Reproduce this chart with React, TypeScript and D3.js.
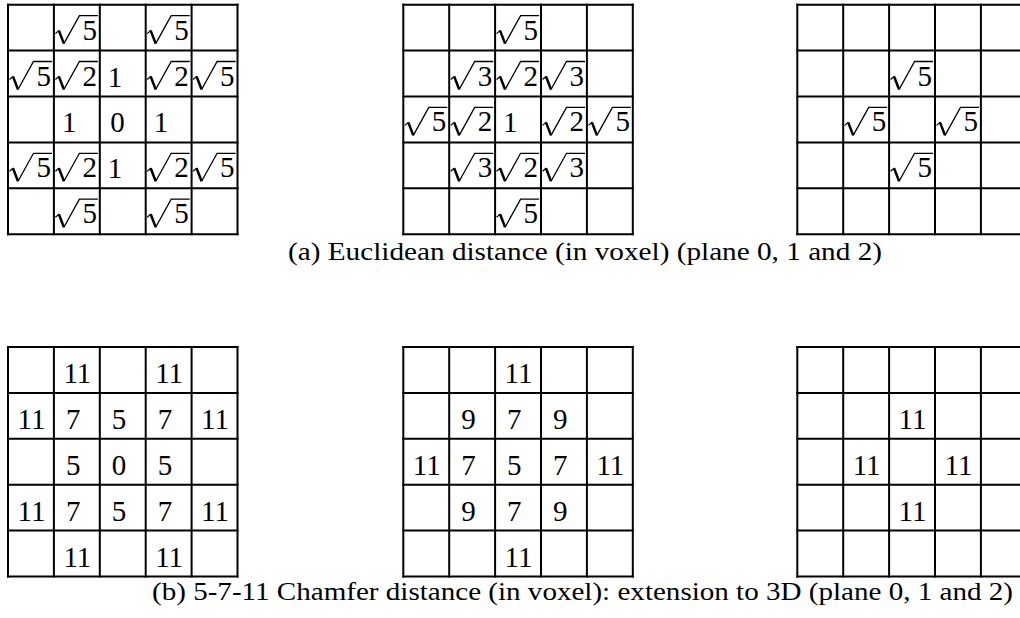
import React from "react";
import * as d3 from "d3";

// ---- data ----
const euclidPlane0: string[][] = [
  ["", "√5", "", "√5", ""],
  ["√5", "√2", "1", "√2", "√5"],
  ["", "1", "0", "1", ""],
  ["√5", "√2", "1", "√2", "√5"],
  ["", "√5", "", "√5", ""],
];
const euclidPlane1: string[][] = [
  ["", "", "√5", "", ""],
  ["", "√3", "√2", "√3", ""],
  ["√5", "√2", "1", "√2", "√5"],
  ["", "√3", "√2", "√3", ""],
  ["", "", "√5", "", ""],
];
const euclidPlane2: string[][] = [
  ["", "", "", "", ""],
  ["", "", "√5", "", ""],
  ["", "√5", "", "√5", ""],
  ["", "", "√5", "", ""],
  ["", "", "", "", ""],
];
const chamferPlane0: string[][] = [
  ["", "11", "", "11", ""],
  ["11", "7", "5", "7", "11"],
  ["", "5", "0", "5", ""],
  ["11", "7", "5", "7", "11"],
  ["", "11", "", "11", ""],
];
const chamferPlane1: string[][] = [
  ["", "", "11", "", ""],
  ["", "9", "7", "9", ""],
  ["11", "7", "5", "7", "11"],
  ["", "9", "7", "9", ""],
  ["", "", "11", "", ""],
];
const chamferPlane2: string[][] = [
  ["", "", "", "", ""],
  ["", "", "11", "", ""],
  ["", "11", "", "11", ""],
  ["", "", "11", "", ""],
  ["", "", "", "", ""],
];
const captionA = "(a) Euclidean distance (in voxel) (plane 0, 1 and 2)";
const captionB =
  "(b) 5-7-11 Chamfer distance (in voxel): extension to 3D (plane 0, 1 and 2)";

const W = 1020;
const H = 618;
const FONT = "'Liberation Serif', 'Times New Roman', serif";
const N = 5;
const STEP = 45.9;
const gridLefts = [8, 403.3, 797.3];
const CELL_FONT = 29;

function Grid({ data, x0, y0, pad }: { data: string[][]; x0: number; y0: number; pad: number }) {
  const idx = d3.range(N + 1);
  const xs = d3.scaleLinear().domain([0, N]).range([x0, x0 + N * STEP]);
  const ys = d3.scaleLinear().domain([0, N]).range([y0, y0 + N * STEP]);
  const cells: React.ReactNode[] = [];
  data.forEach((row, r) =>
    row.forEach((v, c) => {
      if (!v) return;
      const L = xs(c);
      const B = ys(r + 1);
      if (v.startsWith("√")) {
        const d = v.slice(1);
        const path = d3.path();
        path.moveTo(L + 10, B - 7);
        path.lineTo(L + 25.5, B - 35);
        path.lineTo(L + 44, B - 35);
        cells.push(
          <g key={`${r}-${c}`}>
            <line x1={L + 1.5} y1={B - 17} x2={L + 5.3} y2={B - 20.3} stroke="#000" strokeWidth={1.2} />
            <line x1={L + 5} y1={B - 20} x2={L + 10} y2={B - 7} stroke="#000" strokeWidth={2.5} />
            <path d={path.toString()} fill="none" stroke="#000" strokeWidth={1.3} />
            <text x={L + 28.5} y={B - 11} fontFamily={FONT} fontSize={CELL_FONT} fill="#000">
              {d}
            </text>
          </g>
        );
      } else {
        const off = v.startsWith("1") ? pad - 2.5 : pad;
        cells.push(
          <text key={`${r}-${c}`} x={L + off} y={B - 10} fontFamily={FONT} fontSize={CELL_FONT} fill="#000">
            {v}
          </text>
        );
      }
    })
  );
  return (
    <g>
      {idx.map((i) => (
        <line key={`v${i}`} x1={xs(i)} x2={xs(i)} y1={ys(0) - 1} y2={ys(N) + 1} stroke="#000" strokeWidth={2} />
      ))}
      {idx.map((i) => (
        <line key={`h${i}`} y1={ys(i)} y2={ys(i)} x1={xs(0) - 1} x2={xs(N) + 1} stroke="#000" strokeWidth={2} />
      ))}
      {cells}
    </g>
  );
}

export default function App() {
  const topY = 4.7;
  const botY = 347;
  return (
    <div style={{ position: "fixed", left: 0, top: 0 }}>
      <svg width={W} height={H} style={{ display: "block", background: "#fff" }}>
        <rect width={W} height={H} fill="#fff" />
        <Grid data={euclidPlane0} x0={gridLefts[0]} y0={topY} pad={10.5} />
        <Grid data={euclidPlane1} x0={gridLefts[1]} y0={topY} pad={10.5} />
        <Grid data={euclidPlane2} x0={gridLefts[2]} y0={topY} pad={10.5} />
        <Grid data={chamferPlane0} x0={gridLefts[0]} y0={botY} pad={12} />
        <Grid data={chamferPlane1} x0={gridLefts[1]} y0={botY} pad={12} />
        <Grid data={chamferPlane2} x0={gridLefts[2]} y0={botY} pad={12} />
        <text x={288} y={260} fontFamily={FONT} fontSize={26} textLength={594} lengthAdjust="spacingAndGlyphs" fill="#000">
          {captionA}
        </text>
        <text x={152} y={600} fontFamily={FONT} fontSize={26} textLength={861} lengthAdjust="spacingAndGlyphs" fill="#000">
          {captionB}
        </text>
      </svg>
    </div>
  );
}
